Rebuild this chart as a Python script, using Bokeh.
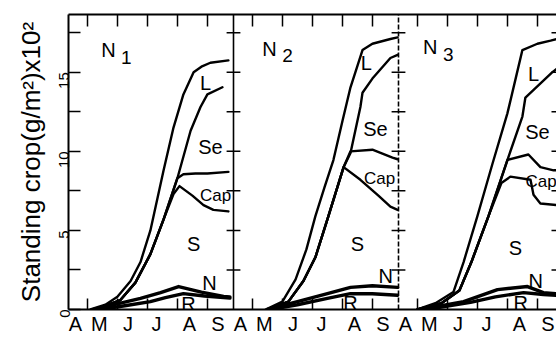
import math
from bokeh.plotting import figure
from bokeh.models import Range1d, LinearAxis, FixedTicker, CustomJSTickFormatter
from bokeh.core.properties import value
from bokeh.embed import file_html
from bokeh.resources import INLINE

# ---------------- data (x in months from 1 April, y in g/m2 x 10^2) ----------------
MONTHS = ["A", "M", "J", "J", "A", "S"]
MONTH_LABEL_POS = [0.6, 1.4, 2.35, 3.3, 4.4, 5.35]
MONTH_STARTS = [1, 2, 3, 4, 5]
Y_MAJOR = [0, 5, 10, 15]
Y_MINOR = [2.5, 7.5, 12.5, 17.5]
PANEL_TITLES = ["N", "N", "N"]
PANEL_SUBS = ["1", "2", "3"]
LAYER_NAMES = ["L", "Se", "Cap", "S", "N", "R"]

# panel N1 : upper boundary of each layer
n1_L_x = [1.10, 1.60, 2.00, 2.44, 2.77, 3.10, 3.54, 3.87, 4.20, 4.54, 4.80, 5.10, 5.70]
n1_L_y = [0, 0.3, 0.8, 1.8, 3.0, 5.0, 8.8, 11.5, 13.6, 15.0, 15.35, 15.6, 15.75]
n1_Se_x = [1.27, 2.10, 2.60, 3.10, 3.54, 4.00, 4.44, 4.77, 5.00, 5.50]
n1_Se_y = [0, 0.6, 1.7, 3.5, 5.7, 8.3, 11.3, 12.8, 13.6, 14.05]
n1_Cap_x = [1.27, 2.10, 2.60, 3.10, 3.54, 4.00, 4.20, 4.60, 5.00, 5.70]
n1_Cap_y = [0, 0.6, 1.7, 3.5, 5.7, 8.3, 8.55, 8.6, 8.6, 8.7]
n1_S_x = [1.27, 2.10, 2.60, 3.10, 3.54, 3.87, 4.07, 4.50, 4.87, 5.20, 5.70]
n1_S_y = [0, 0.6, 1.7, 3.5, 5.7, 7.3, 7.8, 7.2, 6.6, 6.3, 6.2]
n1_N_x = [1.20, 2.00, 2.77, 3.44, 4.04, 4.80, 5.54, 5.75]
n1_N_y = [0, 0.35, 0.7, 1.07, 1.45, 1.1, 0.82, 0.8]
n1_R_x = [1.44, 2.30, 3.10, 3.60, 4.20, 4.90, 5.54, 5.75]
n1_R_y = [0, 0.25, 0.5, 0.75, 1.0, 0.85, 0.75, 0.72]

# panel N2
n2_L_x = [1.44, 2.00, 2.44, 2.80, 3.10, 3.40, 3.70, 4.00, 4.27, 4.67, 5.00, 5.60, 5.84]
n2_L_y = [0, 0.5, 1.9, 3.8, 5.9, 7.7, 9.45, 11.9, 14.05, 16.4, 16.8, 17.1, 17.2]
n2_Se_x = [1.50, 2.20, 2.70, 3.10, 3.50, 4.04, 4.27, 4.60, 4.67, 5.00, 5.60, 5.84]
n2_Se_y = [0, 0.5, 1.8, 3.3, 5.7, 9.0, 9.9, 12.8, 13.7, 14.6, 15.9, 16.1]
n2_Cap_x = [1.50, 2.20, 2.70, 3.10, 3.50, 4.04, 4.27, 5.00, 5.67, 5.84]
n2_Cap_y = [0, 0.5, 1.8, 3.3, 5.7, 9.0, 10.0, 10.1, 9.6, 9.5]
n2_S_x = [1.50, 2.20, 2.70, 3.10, 3.50, 4.04, 4.60, 5.20, 5.60, 5.84]
n2_S_y = [0, 0.5, 1.8, 3.3, 5.7, 9.0, 8.2, 7.2, 6.5, 6.3]
n2_N_x = [1.50, 2.50, 3.50, 4.27, 5.00, 5.84]
n2_N_y = [0, 0.5, 1.0, 1.4, 1.5, 1.4]
n2_R_x = [1.60, 2.50, 3.50, 4.27, 5.00, 5.84]
n2_R_y = [0, 0.3, 0.7, 1.0, 1.0, 0.9]

# panel N3
n3_L_x = [1.00, 1.60, 2.20, 2.54, 3.00, 3.50, 4.00, 4.30, 4.50, 5.00, 5.44, 5.64]
n3_L_y = [0, 0.4, 1.1, 3.0, 5.9, 9.2, 12.4, 14.8, 16.4, 16.8, 17.0, 17.1]
n3_Se_x = [1.00, 1.80, 2.40, 2.80, 3.37, 4.00, 4.50, 4.60, 5.50, 5.64]
n3_Se_y = [0, 0.4, 1.2, 3.0, 5.9, 9.45, 12.2, 13.4, 15.0, 15.2]
n3_Cap_x = [1.00, 1.80, 2.40, 2.80, 3.37, 4.00, 4.70, 5.10, 5.54, 5.64]
n3_Cap_y = [0, 0.4, 1.2, 3.0, 5.9, 9.45, 9.8, 9.0, 8.8, 8.8]
n3_S_x = [1.00, 1.80, 2.40, 2.80, 3.37, 3.80, 4.10, 4.77, 4.87, 5.10, 5.64]
n3_S_y = [0, 0.4, 1.2, 3.0, 5.9, 8.0, 8.4, 8.2, 7.25, 6.7, 6.6]
n3_N_x = [1.10, 2.54, 3.67, 4.67, 5.20, 5.64]
n3_N_y = [0, 0.5, 1.26, 1.45, 1.07, 1.0]
n3_R_x = [1.30, 2.77, 3.60, 4.54, 5.20, 5.64]
n3_R_y = [0, 0.45, 0.8, 1.07, 0.95, 0.9]

# ---------------- layout helpers ----------------
PANEL_START = 0.37      # local month at the left edge of each panel
PANEL_WIDTH = 5.5       # months per panel
N_PANELS = 3
X_VISIBLE = 488 / 30.0  # visible months (third panel is cut by the image edge)
Y_TOP = 18.65
FONT = "Liberation Sans"


def gx(xs, k):
    return [x - PANEL_START + k * PANEL_WIDTH for x in xs]


panels = [
    {"L": (n1_L_x, n1_L_y), "Se": (n1_Se_x, n1_Se_y), "Cap": (n1_Cap_x, n1_Cap_y),
     "S": (n1_S_x, n1_S_y), "N": (n1_N_x, n1_N_y), "R": (n1_R_x, n1_R_y)},
    {"L": (n2_L_x, n2_L_y), "Se": (n2_Se_x, n2_Se_y), "Cap": (n2_Cap_x, n2_Cap_y),
     "S": (n2_S_x, n2_S_y), "N": (n2_N_x, n2_N_y), "R": (n2_R_x, n2_R_y)},
    {"L": (n3_L_x, n3_L_y), "Se": (n3_Se_x, n3_Se_y), "Cap": (n3_Cap_x, n3_Cap_y),
     "S": (n3_S_x, n3_S_y), "N": (n3_N_x, n3_N_y), "R": (n3_R_x, n3_R_y)},
]

# label anchor positions (local month, value) per panel
label_pos = [
    {"L": (4.94, 14.3), "Se": (5.10, 10.3), "Cap": (5.27, 7.2), "S": (4.54, 4.16), "N": (5.07, 1.7), "R": (4.37, 0.35)},
    {"L": (4.80, 15.6), "Se": (5.10, 11.4), "Cap": (5.24, 8.3), "S": (4.50, 4.16), "N": (5.44, 2.1), "R": (4.27, 0.44)},
    {"L": (4.87, 14.9), "Se": (5.00, 11.2), "Cap": (5.12, 8.1), "S": (4.27, 3.9), "N": (4.94, 1.83), "R": (4.44, 0.38)},
]
title_pos = [(1.70, 16.4), (1.57, 16.5), (1.43, 16.57)]

p = figure(width=556, height=337, x_range=Range1d(0, X_VISIBLE), y_range=Range1d(0, Y_TOP),
           output_backend="svg", toolbar_location=None,
           min_border_left=68, min_border_right=0, min_border_top=14, min_border_bottom=27)
p.outline_line_color = None
p.grid.visible = False
p.background_fill_color = "white"
p.border_fill_color = "white"

# ---- left axis ----
yax = p.yaxis[0]
yax.ticker = FixedTicker(ticks=Y_MAJOR, minor_ticks=Y_MINOR)
yax.major_tick_in = 12
yax.major_tick_out = 0
yax.minor_tick_in = 12
yax.minor_tick_out = 0
yax.major_tick_line_width = 1.5
yax.minor_tick_line_width = 1.5
yax.axis_line_width = 2
yax.major_label_orientation = math.pi / 2
yax.major_label_standoff = 4
yax.major_label_text_font = FONT
yax.major_label_text_font_size = "15px"
yax.major_label_text_color = "black"
yax.axis_label = "Standing crop(g/m²)x10²"
yax.axis_label_text_font = FONT
yax.axis_label_text_font_size = "26px"
yax.axis_label_text_font_style = "normal"
yax.axis_label_text_color = "black"
yax.axis_label_standoff = 6

# ---- month tick positions ----
tick_global = []
label_global = []
label_text = []
for k in range(N_PANELS):
    tick_global += gx(MONTH_STARTS, k)
    label_global += gx(MONTH_LABEL_POS, k)
    label_text += MONTHS

xax = p.xaxis[0]
xax.ticker = FixedTicker(ticks=label_global, minor_ticks=tick_global)
xax.formatter = CustomJSTickFormatter(args=dict(pos=label_global, labels=label_text), code="""
    for (let i = 0; i < pos.length; i++) {
        if (Math.abs(tick - pos[i]) < 1e-6) { return labels[i]; }
    }
    return "";
""")
xax.major_tick_in = 0
xax.major_tick_out = 0
xax.minor_tick_in = 11
xax.minor_tick_out = 0
xax.minor_tick_line_width = 1.5
xax.axis_line_width = 2
xax.major_label_standoff = 3
xax.major_label_text_font = FONT
xax.major_label_text_font_size = "20px"
xax.major_label_text_color = "black"

top = LinearAxis(ticker=FixedTicker(ticks=[], minor_ticks=tick_global))
top.major_tick_in = 0
top.major_tick_out = 0
top.minor_tick_in = 12
top.minor_tick_out = 0
top.minor_tick_line_width = 1.5
top.axis_line_width = 2
top.major_label_standoff = 0
top.major_label_text_font_size = "0px"
p.add_layout(top, "above")

# ---- panel dividers with crossing ticks ----
dividers = [PANEL_WIDTH * k for k in range(1, N_PANELS + 1)]
dashes = ["solid", "5 2", "solid"]
lv = Y_MINOR + Y_MAJOR[1:]
for d, dash in zip(dividers, dashes):
    p.line([d, d], [0, Y_TOP], line_color="black", line_width=1.6, line_dash=dash)
    p.segment(x0=[d - 0.23] * len(lv), x1=[d + 0.23] * len(lv), y0=lv, y1=lv,
              line_color="black", line_width=1.5)
# inward ticks of the (cut-off) right frame of the last panel
p.segment(x0=[dividers[-1] - 0.4] * len(lv), x1=[dividers[-1]] * len(lv), y0=lv, y1=lv,
          line_color="black", line_width=1.5)

# ---- curves ----
for k, pan in enumerate(panels):
    for name in LAYER_NAMES:
        xs, ys = pan[name]
        w = 3.4 if name in ("N", "R") else 2.4
        p.line(gx(xs, k), ys, line_color="black", line_width=w, line_join="round", line_cap="round")

# ---- layer labels ----
for k in range(N_PANELS):
    for name in LAYER_NAMES:
        lx, ly = label_pos[k][name]
        size = "17px" if name == "Cap" else "20px"
        p.text(x=gx([lx], k), y=[ly], text=[name], text_font=value(FONT),
               text_font_size=value(size), text_align="center", text_baseline="middle",
               text_color="black")
    tx, ty = title_pos[k]
    p.text(x=gx([tx], k), y=[ty], text=[PANEL_TITLES[k]], text_font=value(FONT),
           text_font_size=value("20px"), text_align="center", text_baseline="middle", text_color="black")
    p.text(x=gx([tx + 0.6], k), y=[ty - 0.45], text=[PANEL_SUBS[k]], text_font=value(FONT),
           text_font_size=value("19px"), text_align="center", text_baseline="middle", text_color="black")

open("out.html", "w").write(file_html(p, INLINE))
